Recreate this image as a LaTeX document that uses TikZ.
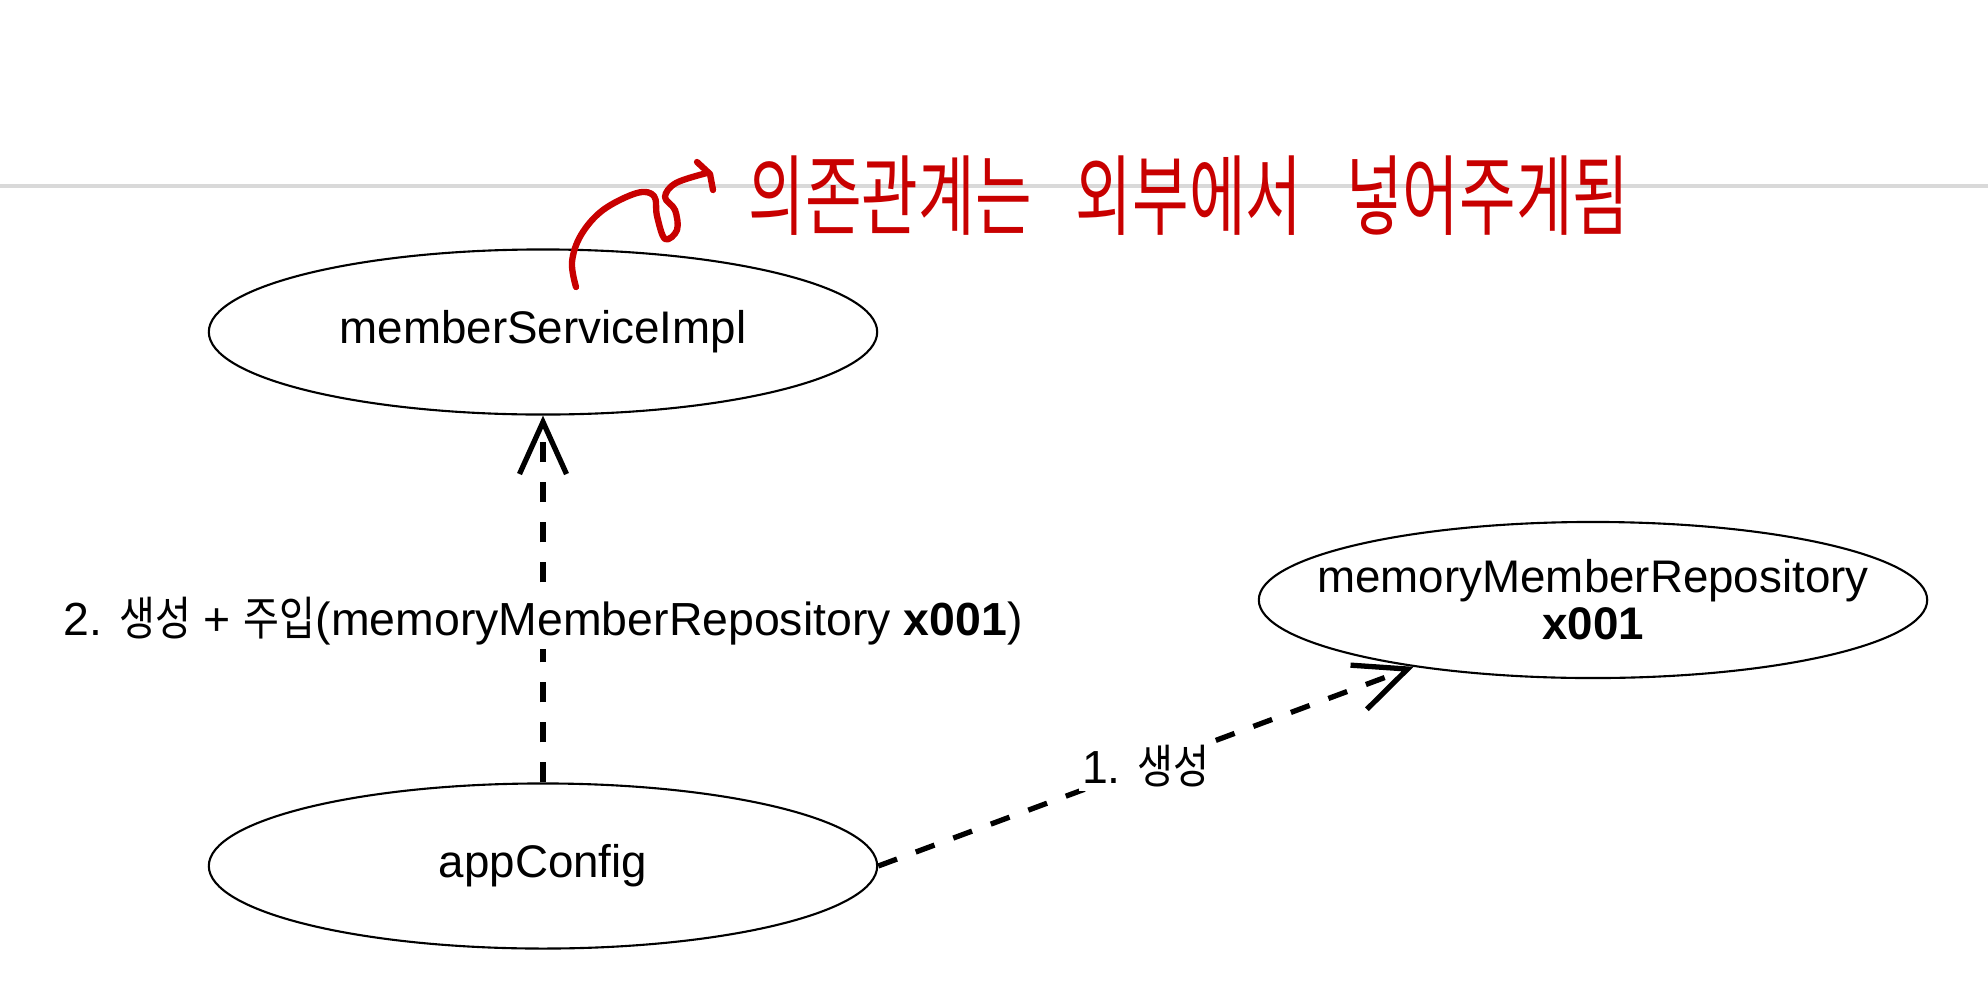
\documentclass[tikz,border=0pt]{standalone}
\usepackage{fontspec}
\setmainfont{Liberation Sans}
\newfontfamily\krfont[FakeStretch=0.84]{Noto Sans CJK KR}
\newfontfamily\handfont[FakeStretch=0.7]{Noto Sans CJK KR}
\usepackage{xcolor}
\usepackage{tikz}
\usetikzlibrary{shapes.geometric, arrows.meta, positioning}
\definecolor{pen}{HTML}{C80000}
\definecolor{rulegray}{HTML}{D9D9D9}

\begin{document}
\begin{tikzpicture}[
    x=0.01cm, y=-0.01cm,
    obj/.style={ellipse, draw, line width=0.6pt, minimum width=6.68cm, minimum height=1.65cm, inner xsep=-1.5cm, inner ysep=-0.4cm, align=center, font=\fontsize{13pt}{13.4pt}\selectfont},
    dep/.style={-{Straight Barb[length=5.2mm, width=4.7mm]}, line width=1.5pt, dash pattern=on 2mm off 2mm},
    lbl/.style={fill=white, inner sep=1pt, font=\fontsize{13.2pt}{15pt}\selectfont}
]
\useasboundingbox (0,0) rectangle (1988,1000);

% Page rule
\draw[rulegray, line width=1.1pt] (0,186) -- (1988,186);

% Nodes
\node[obj] (impl) at (543,332) {memberServiceImpl};
\node[obj, minimum height=1.56cm] (repo) at (1593,600) {memoryMemberRepository\\\textbf{x001}};
\node[obj] (app) at (543,866) {appConfig};

% Arrows
\draw[dep] (app) -- node[lbl, pos=0.44] {2. {\krfont 생성} + {\krfont 주입}(memoryMemberRepository \textbf{x001})} (impl);
\draw[dep] (app.east) -- node[lbl] {1. {\krfont 생성}} (repo);

% Handwritten note
\node[anchor=west, inner sep=0pt, text=pen, font=\handfont\fontsize{25pt}{25pt}\selectfont] (note) at (748,196) {의존관계는\hspace{0.44cm}외부에서\hspace{0.44cm}넣어주게됨};
\draw[pen, line width=1.8pt, line cap=round, line join=round] plot[smooth, tension=0.6] coordinates {(576,287) (572,262) (581,235) (603,210) (637,193) (654,196) (657,216) (665,239) (677,230) (675,210) (665,197) (676,183) (707,173)};
\draw[pen, line width=1.8pt, line cap=round, line join=round] (697,162) -- (710,174) -- (713,190);

\end{tikzpicture}
\end{document}
